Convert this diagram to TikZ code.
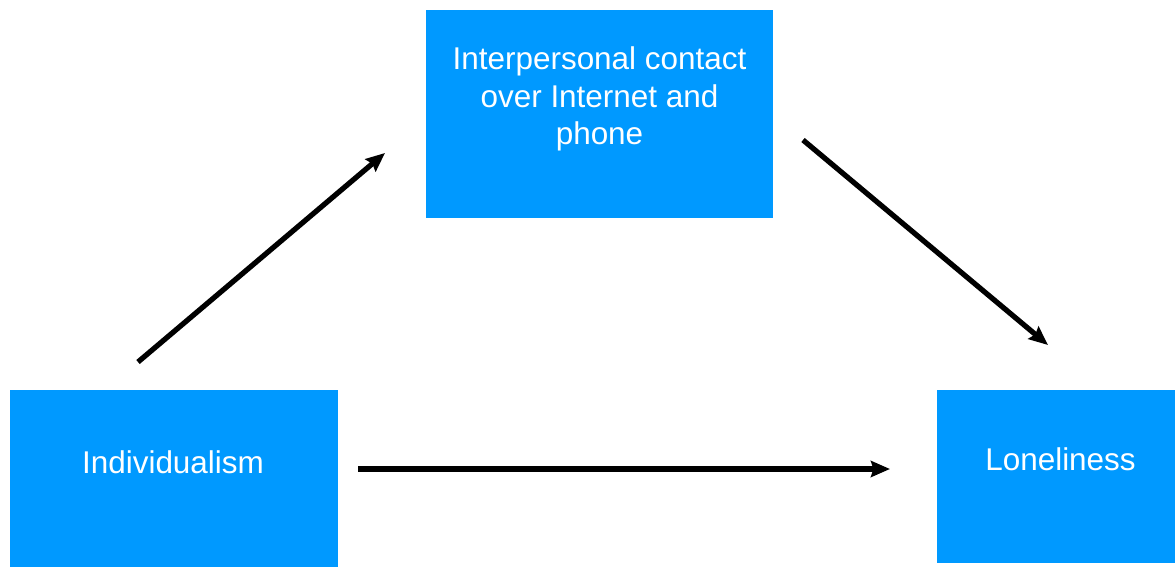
\documentclass[tikz,border=0pt]{standalone}
\usepackage{fontspec}
\setmainfont{Liberation Sans}
\usetikzlibrary{arrows.meta}
\usetikzlibrary{positioning}
\definecolor{boxblue}{RGB}{0,153,255}
\tikzstyle{box}=[rectangle,fill=boxblue,draw=none,inner sep=0pt]
\tikzstyle{boxtext}=[text=white,font=\fontsize{17.9}{21.3}\selectfont,align=center,inner sep=0pt]
\tikzstyle{edge} = [draw,line width=3pt,-{Stealth[length=0.38cm,width=0.32cm,inset=0.05cm]}]

\begin{document}
\begin{tikzpicture}[x=0.02cm,y=-0.02cm]

  \useasboundingbox (0,0) rectangle (1175,567);
  \clip (0,0) rectangle (1175,567);

  \foreach \x/\y/\w/\h/\name in {599.5/114/6.94/4.16/contact, 174/481/6.56/3.64/indiv, 1057.5/476.5/4.82/3.46/lonely}
          \node[box, minimum width=\w cm, minimum height=\h cm] (\name) at (\x,\y) {};

  \node[boxtext] (contactText) at (599.5,99) {Interpersonal contact\\over Internet and\\phone};
  \node[boxtext] (indivText) at (173,462) {Individualism};
  \node[boxtext] (lonelyText) at (1060.5,459) {Loneliness};

  % arrow ends, kept clear of the boxes
  \foreach \x/\y/\name in {138/362/a1, 385/153/b1, 803/140/a2, 1048/345/b2, 358/469/a3, 890/469/b3}
          \coordinate (\name) at (\x,\y);

  \foreach \source/ \dest in {a1/b1, a2/b2, a3/b3}
         \path[edge] (\source) -- (\dest);

\end{tikzpicture}
\end{document}
